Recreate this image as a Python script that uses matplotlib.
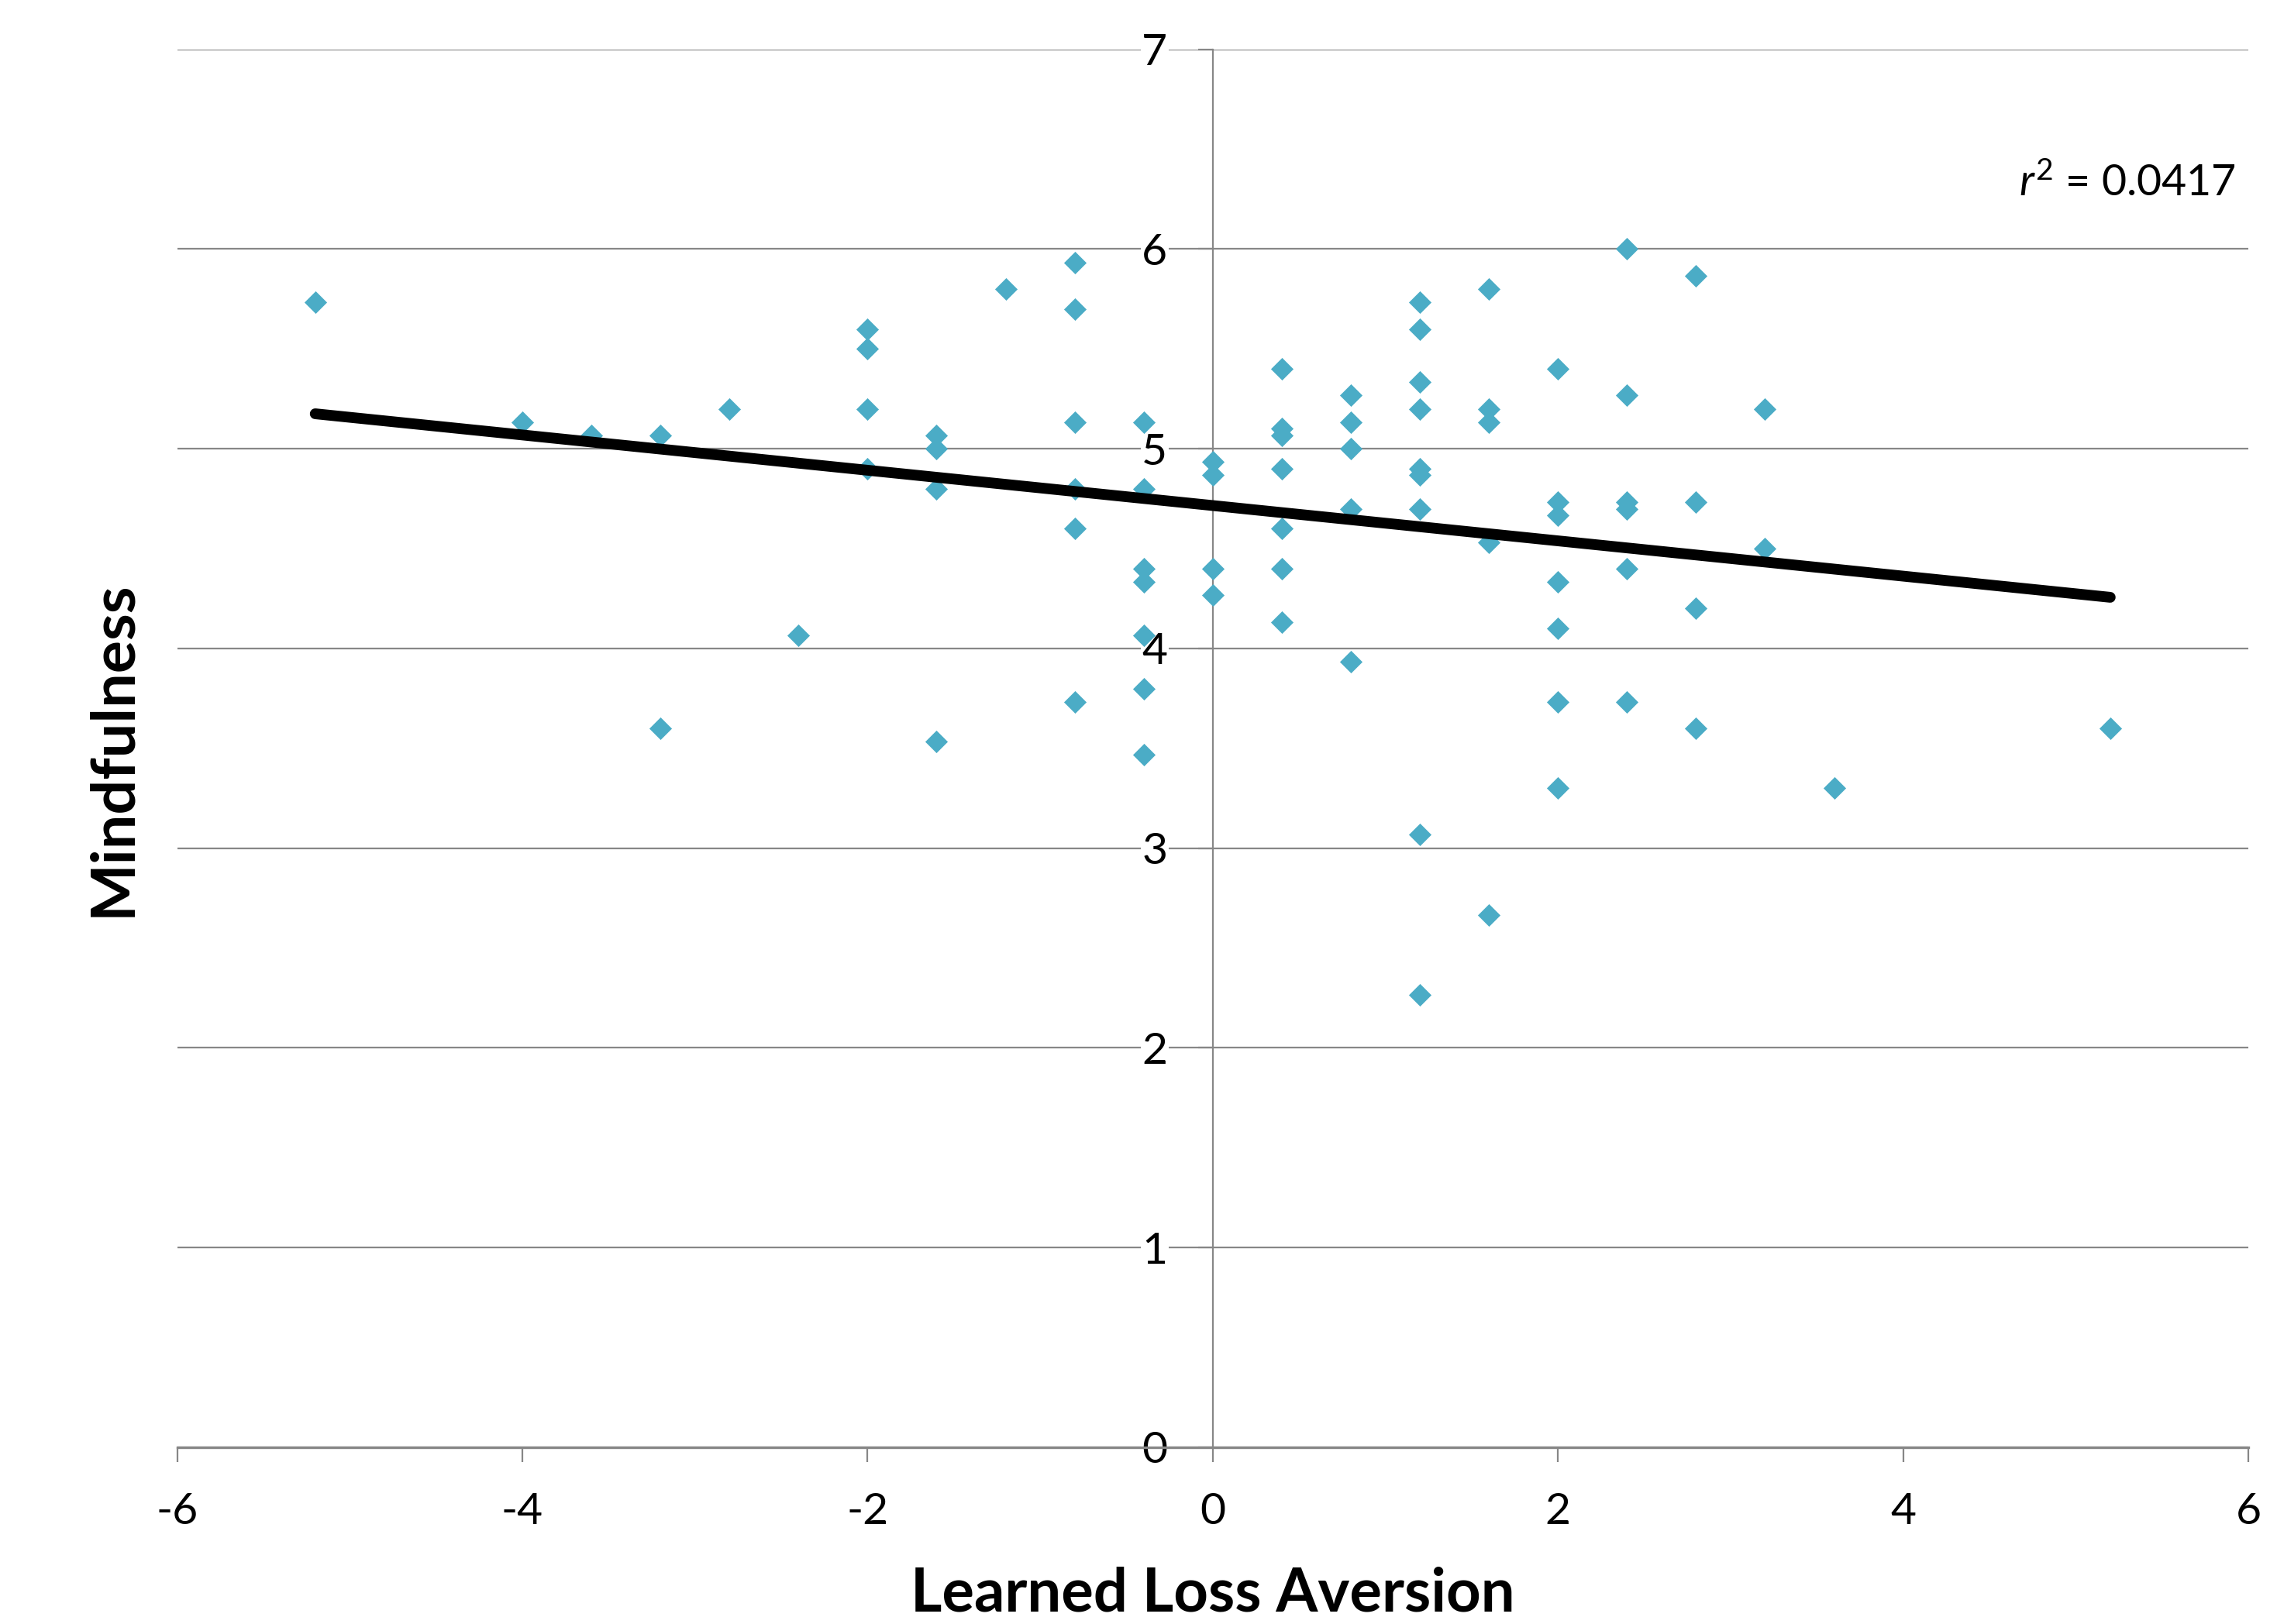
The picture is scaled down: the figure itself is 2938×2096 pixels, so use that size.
import numpy as np
import matplotlib
matplotlib.use("Agg")
import matplotlib.pyplot as plt

plt.rcParams['font.family'] = ['Lato', 'DejaVu Sans']
plt.rcParams['mathtext.fontset'] = 'custom'
plt.rcParams['mathtext.it'] = 'Lato:italic'
plt.rcParams['mathtext.rm'] = 'Lato'

# learned loss aversion (x) and mindfulness (y)
loss_aversion = [
    -5.2,
    -4.0,
    -3.6,
    -3.2, -3.2,
    -2.8,
    -2.4,
    -2.0, -2.0, -2.0, -2.0,
    -1.6, -1.6, -1.6, -1.6,
    -1.2,
    -0.8, -0.8, -0.8, -0.8, -0.8, -0.8,
    -0.4, -0.4, -0.4, -0.4, -0.4, -0.4, -0.4,
    0.0, 0.0, 0.0, 0.0,
    0.4, 0.4, 0.4, 0.4, 0.4, 0.4, 0.4,
    0.8, 0.8, 0.8, 0.8, 0.8,
    1.2, 1.2, 1.2, 1.2, 1.2, 1.2, 1.2, 1.2, 1.2,
    1.6, 1.6, 1.6, 1.6, 1.6,
    2.0, 2.0, 2.0, 2.0, 2.0, 2.0, 2.0,
    2.4, 2.4, 2.4, 2.4, 2.4, 2.4,
    2.8, 2.8, 2.8, 2.8,
    3.2, 3.2,
    3.6,
    5.2,
]
mindfulness = [
    5.733,
    5.133,
    5.067,
    5.067, 3.600,
    5.200,
    4.067,
    5.600, 5.500, 5.200, 4.900,
    5.067, 5.000, 4.800, 3.533,
    5.800,
    5.933, 5.700, 5.133, 4.800, 4.600, 3.733,
    5.133, 4.800, 4.400, 4.333, 4.067, 3.800, 3.467,
    4.933, 4.867, 4.400, 4.267,
    5.400, 5.100, 5.067, 4.900, 4.600, 4.400, 4.133,
    5.267, 5.133, 5.000, 4.700, 3.933,
    5.733, 5.600, 5.333, 5.200, 4.900, 4.867, 4.700, 3.067, 2.267,
    5.800, 5.200, 5.133, 4.533, 2.667,
    5.400, 4.733, 4.667, 4.333, 4.100, 3.733, 3.300,
    6.000, 5.267, 4.733, 4.700, 4.400, 3.733,
    5.867, 4.733, 4.200, 3.600,
    5.200, 4.500,
    3.300,
    3.600,
]
r2_label = r'$\mathit{r}^2$ = 0.0417'

x = np.array(loss_aversion)
y = np.array(mindfulness)
slope, intercept = np.polyfit(x, y, 1)
fit_x = np.array([x.min(), x.max()])
fit_y = slope * fit_x + intercept

grid_color = '#878787'

fig = plt.figure(figsize=(14.69, 10.48), dpi=200)
ax = fig.add_axes([0.0778, 0.1088, 0.9096, 0.8608])

ax.scatter(x, y, marker='D', s=55, color='#4BACC6', linewidths=0, zorder=3)
ax.plot(fit_x, fit_y, color='black', linewidth=5, solid_capstyle='round', zorder=4)

ax.set_xlim(-6, 6)
ax.set_ylim(0, 7)
ax.set_xticks(range(-6, 7, 2))
ax.set_yticks(range(0, 8))

ax.grid(axis='y', color=grid_color, linewidth=0.8, zorder=0)
ax.set_axisbelow(True)

ax.spines['top'].set_visible(False)
ax.spines['right'].set_visible(False)
ax.spines['left'].set_position(('data', 0))
ax.spines['left'].set_color(grid_color)
ax.spines['left'].set_linewidth(0.8)
ax.spines['bottom'].set_color(grid_color)
ax.spines['bottom'].set_linewidth(1.2)

ax.tick_params(axis='x', direction='out', length=7, width=0.8, color=grid_color,
               labelsize=20.5, pad=14)
ax.tick_params(axis='y', direction='out', length=7, width=0.8, color=grid_color,
               labelsize=20.5, pad=14)
for lab in ax.get_yticklabels():
    lab.set_bbox(dict(facecolor='white', edgecolor='none', pad=0.5))

ax.set_xticklabels(['-6', '-4', '-2', '0', '2', '4', '6'])

ax.set_xlabel('Learned Loss Aversion', fontsize=28, fontweight='bold', va='center')
ax.xaxis.set_label_coords(0.5, -0.105)
ax.set_ylabel('Mindfulness', fontsize=28.5, fontweight='bold', va='center')
ax.yaxis.set_label_coords(-0.031, 0.5)

ax.text(5.93, 6.33, r2_label, fontsize=20, ha='right', va='center')

fig.savefig('out.png', dpi=200)
